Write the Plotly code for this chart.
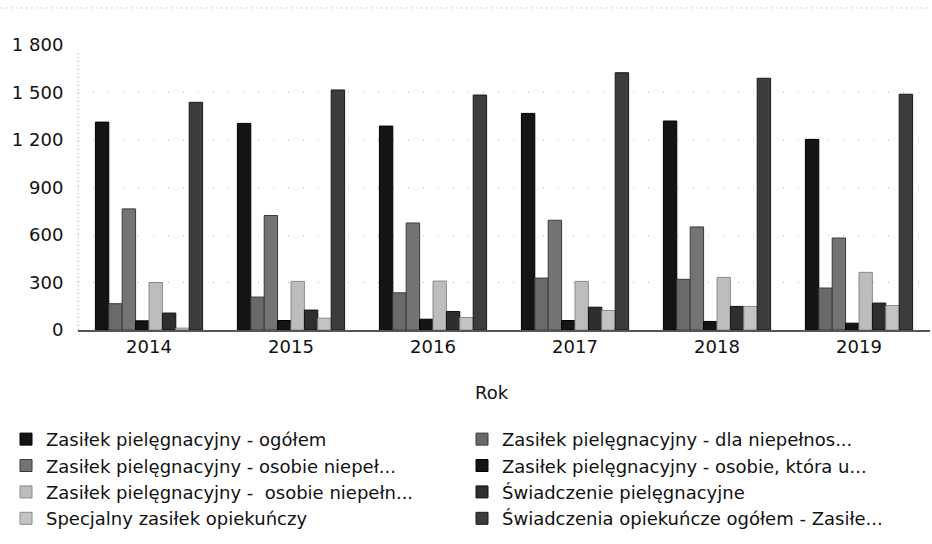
import plotly.graph_objects as go

years = ["2014", "2015", "2016", "2017", "2018", "2019"]

series_names = [
    "Zasiłek pielęgnacyjny - ogółem",
    "Zasiłek pielęgnacyjny - dla niepełnos...",
    "Zasiłek pielęgnacyjny - osobie niepeł...",
    "Zasiłek pielęgnacyjny - osobie, która u...",
    "Zasiłek pielęgnacyjny -  osobie niepełn...",
    "Świadczenie pielęgnacyjne",
    "Specjalny zasiłek opiekuńczy",
    "Świadczenia opiekuńcze ogółem - Zasiłe...",
]

zp_ogolem = [1313, 1305, 1288, 1368, 1320, 1204]
zp_dla_niepelnosprawnego = [166, 208, 235, 328, 320, 265]
zp_osobie_niepelnosprawnej = [765, 723, 676, 693, 651, 581]
zp_osobie_ktora_ukonczyla = [58, 60, 68, 60, 54, 43]
zp_osobie_niepelnosprawnej_2 = [300, 307, 309, 307, 332, 364]
swiadczenie_pielegnacyjne = [107, 126, 117, 144, 149, 170]
specjalny_zasilek = [12, 75, 79, 123, 149, 155]
swiadczenia_ogolem = [1438, 1516, 1484, 1625, 1590, 1489]

series_values = [
    zp_ogolem,
    zp_dla_niepelnosprawnego,
    zp_osobie_niepelnosprawnej,
    zp_osobie_ktora_ukonczyla,
    zp_osobie_niepelnosprawnej_2,
    swiadczenie_pielegnacyjne,
    specjalny_zasilek,
    swiadczenia_ogolem,
]

y_ticks = [0, 300, 600, 900, 1200, 1500, 1800]
x_title = "Rok"

fill_colors = ["#141414", "#6a6a6a", "#747474", "#141414",
               "#bdbdbd", "#2e2e2e", "#c4c4c4", "#3c3c3c"]
edge_colors = ["#000000", "#3a3a3a", "#3a3a3a", "#000000",
               "#8a8a8a", "#111111", "#8a8a8a", "#1a1a1a"]

FONT = "DejaVu Sans"

fig = go.Figure()
for name, vals, fc, ec in zip(series_names, series_values, fill_colors, edge_colors):
    fig.add_trace(go.Bar(
        x=years, y=vals, name=name,
        marker=dict(color=fc, line=dict(color=ec, width=1)),
    ))

fig.update_layout(
    width=932, height=544,
    margin=dict(l=78, r=2, t=45, b=214),
    paper_bgcolor="white", plot_bgcolor="white",
    barmode="group", bargap=0.245, bargroupgap=0,
    separators=", ",
    font=dict(family=FONT, size=18, color="#111111"),
    showlegend=True,
    legend=dict(
        orientation="h", x=-0.0845, y=-0.319, xanchor="left", yanchor="top",
        entrywidth=411, entrywidthmode="pixels",
        font=dict(family=FONT, size=18, color="#111111"),
        traceorder="normal", tracegroupgap=0, itemwidth=30,
        bgcolor="rgba(0,0,0,0)",
    ),
    xaxis=dict(
        showline=True, linecolor="#555555", linewidth=1.5,
        ticks="", tickfont=dict(family=FONT, size=18),
        showgrid=False,
    ),
    yaxis=dict(
        range=[0, 1800], tickvals=y_ticks, tickformat=",d",
        tickfont=dict(family=FONT, size=18),
        ticks="outside", ticklen=0, ticklabelstandoff=10,
        showgrid=True, gridcolor="#b5b5b5", gridwidth=1, griddash="1px,14px",
        zeroline=False, showline=False,
    ),
)

# x-axis title, set slightly left of centre
fig.add_annotation(text=x_title, xref="paper", yref="paper", x=0.486, y=-0.22,
                   xanchor="center", yanchor="middle", showarrow=False,
                   font=dict(family=FONT, size=18, color="#111111"))

# faint dotted vertical axis line
fig.add_shape(type="line", xref="paper", yref="y", x0=0, x1=0, y0=0, y1=1750,
              line=dict(color="#9a9a9a", width=1, dash="1px,3px"))
# dotted rule along the top edge
fig.add_shape(type="line", xref="paper", yref="paper", x0=-0.09, x1=1.0,
              y0=1.13, y1=1.13, line=dict(color="#a8a8a8", width=1, dash="1px,4px"))

fig.write_html("out.html")
